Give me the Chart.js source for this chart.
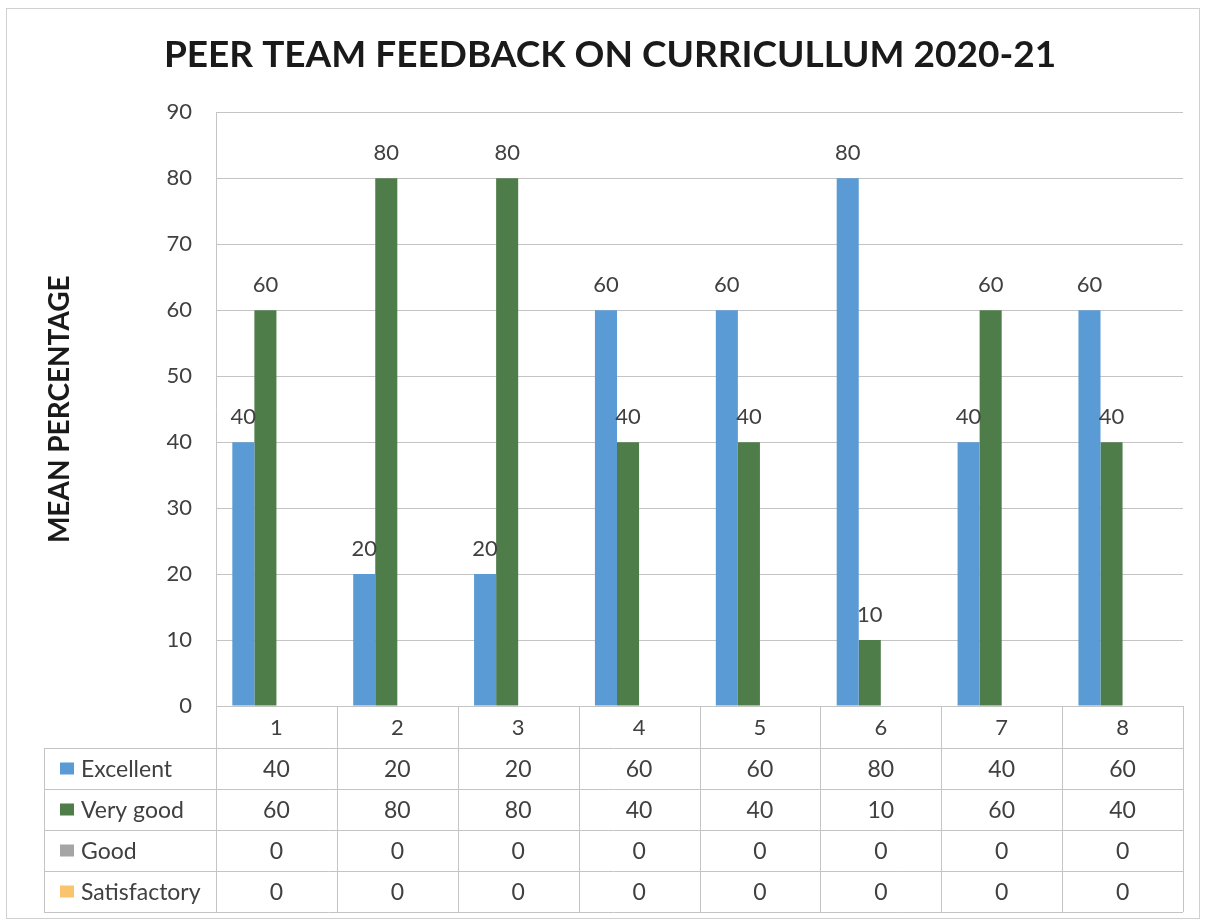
<!DOCTYPE html>
<html>
<head>
<meta charset="utf-8">
<script src="https://cdn.jsdelivr.net/npm/chart.js@4.4.1/dist/chart.umd.min.js"></script>
<style>
  html, body { margin:0; padding:0; background:#fff; }
  #wrap { width:1206px; height:920px; position:relative; }
</style>
</head>
<body>
<div id="wrap"><canvas id="myCanvas" width="1206" height="920"></canvas></div>
<script>
// chart values
const categories = ['1', '2', '3', '4', '5', '6', '7', '8']
const seriesNames = ['Excellent', 'Very good', 'Good', 'Satisfactory']
const excellent = [40, 20, 20, 60, 60, 80, 40, 60]
const veryGood = [60, 80, 80, 40, 40, 10, 60, 40]
const good = [0, 0, 0, 0, 0, 0, 0, 0]
const satisfactory = [0, 0, 0, 0, 0, 0, 0, 0]
const yTicks = [0, 10, 20, 30, 40, 50, 60, 70, 80, 90]

const colors = ['#5b9bd5', '#4f7d4a', '#a5a5a5', '#f9c46b']
const allSeries = [excellent, veryGood, good, satisfactory]
const textColor = '#404040'
const lineColor = '#c4c4c4'
const baseFont = 'Lato, "Open Sans", sans-serif'

const rowH = 41
const headerH = 42
const tableLeft = 44

// move the title box a bit right, like the original
const titleShift = {
  id: 'titleShift',
  beforeDraw(chart){
    if(chart.titleBlock){
      chart.titleBlock.left = 37
      chart.titleBlock.right = 1183
    }
  }
}

// value labels above the first two series
const valueLabels = {
  id: 'valueLabels',
  afterDatasetsDraw(chart){
    const ctx = chart.ctx
    ctx.save()
    ctx.font = '22px ' + baseFont
    ctx.fillStyle = textColor
    ctx.textAlign = 'center'
    ctx.textBaseline = 'alphabetic'
    for(let d = 0; d < 2; d++){
      const meta = chart.getDatasetMeta(d)
      meta.data.forEach((bar, i) => {
        ctx.fillText(String(allSeries[d][i]), bar.x, bar.y - 18)
      })
    }
    ctx.restore()
  }
}

// excel style data table under the plot
const dataTable = {
  id: 'dataTable',
  afterDraw(chart){
    const ctx = chart.ctx
    const x = chart.scales.x
    const area = chart.chartArea
    const n = categories.length
    const edges = [area.left]
    for(let i = 0; i < n - 1; i++){
      edges.push((x.getPixelForValue(i) + x.getPixelForValue(i + 1)) / 2)
    }
    edges.push(area.right)
    const top = area.bottom + headerH
    const bottom = top + rowH * seriesNames.length

    ctx.save()
    ctx.strokeStyle = lineColor
    ctx.lineWidth = 1
    ctx.beginPath()
    // vertical lines
    edges.forEach(e => {
      const px = Math.round(e) + 0.5
      ctx.moveTo(px, area.bottom)
      ctx.lineTo(px, bottom)
    })
    ctx.moveTo(tableLeft + 0.5, top)
    ctx.lineTo(tableLeft + 0.5, bottom)
    // horizontal lines
    for(let r = 0; r <= seriesNames.length; r++){
      const py = Math.round(top + r * rowH) + 0.5
      ctx.moveTo(tableLeft, py)
      ctx.lineTo(area.right, py)
    }
    ctx.stroke()

    ctx.font = '23px ' + baseFont
    ctx.textBaseline = 'middle'
    seriesNames.forEach((name, r) => {
      const cy = top + r * rowH + rowH / 2
      ctx.fillStyle = colors[r]
      ctx.fillRect(tableLeft + 16, cy - 6, 14, 12)
      ctx.fillStyle = textColor
      ctx.textAlign = 'left'
      ctx.fillText(name, tableLeft + 37, cy + 1)
      ctx.textAlign = 'center'
      allSeries[r].forEach((v, i) => {
        ctx.fillText(String(v), x.getPixelForValue(i), cy + 1)
      })
    })

    // outer chart border
    ctx.strokeStyle = '#d0d0d0'
    ctx.strokeRect(6.5, 8.5, 1193, 910)
    ctx.restore()
  }
}

const chartData = {
  labels: categories,
  datasets: seriesNames.map((name, i) => ({
    label: name,
    data: allSeries[i],
    backgroundColor: colors[i],
    borderWidth: 0,
    categoryPercentage: 0.73,
    barPercentage: 1
  }))
}

const config = {
  type: 'bar',
  data: chartData,
  options: {
    responsive: false,
    animation: false,
    layout: { padding: { left: 0, right: 23, top: 0, bottom: rowH * 4 + 8 } },
    plugins: {
      legend: { display: false },
      tooltip: { enabled: false },
      title: {
        display: true,
        text: 'PEER TEAM FEEDBACK ON CURRICULLUM 2020-21',
        color: '#1a1a1a',
        font: { family: baseFont, size: 37, weight: 'bold', lineHeight: 1.2 },
        padding: { top: 33, bottom: 35 }
      }
    },
    scales: {
      x: {
        grid: { display: false, drawTicks: false },
        border: { display: true, color: lineColor },
        ticks: { color: textColor, font: { family: baseFont, size: 22 }, padding: 9 },
        afterFit(scale){ scale.height = headerH }
      },
      y: {
        min: 0,
        max: 90,
        afterBuildTicks(scale){ scale.ticks = yTicks.map(v => ({ value: v })) },
        grid: { color: lineColor, drawTicks: false },
        border: { display: true, color: lineColor },
        ticks: { color: textColor, font: { family: baseFont, size: 22 }, padding: 24 },
        title: {
          display: true,
          text: 'MEAN PERCENTAGE',
          color: '#1a1a1a',
          font: { family: baseFont, size: 28, weight: 'bold', lineHeight: 1.2 },
          padding: { top: 43, bottom: 0 }
        },
        afterFit(scale){ scale.width = 216 }
      }
    }
  },
  plugins: [titleShift, valueLabels, dataTable]
}

const myChart = new Chart(document.getElementById('myCanvas'), config)
</script>
</body>
</html>
